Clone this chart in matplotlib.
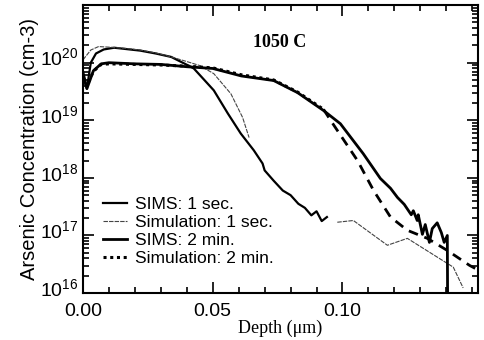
import matplotlib
matplotlib.use("Agg")
import matplotlib.pyplot as plt
import matplotlib.transforms as mtransforms
import numpy as np
from matplotlib.ticker import LogLocator, MultipleLocator, FixedLocator

# Depth in um, concentration as log10(cm-3).
sims_1s_x = [0.000, 0.0015, 0.003, 0.005, 0.008, 0.012, 0.016, 0.022, 0.028,
             0.034, 0.0415, 0.0427, 0.0504, 0.0558, 0.0608, 0.0658, 0.0692,
             0.0700, 0.0735, 0.0770, 0.0800, 0.0830, 0.0855, 0.0880, 0.0900,
             0.0920, 0.0940]
sims_1s_y = [19.77, 19.55, 20.00, 20.16, 20.23, 20.26, 20.24, 20.21, 20.16,
             20.10, 19.93, 19.90, 19.52, 19.12, 18.77, 18.48, 18.25,
             18.13, 17.95, 17.78, 17.70, 17.55, 17.48, 17.35, 17.42,
             17.25, 17.32]

sim_1s_x = [0.000, 0.003, 0.006, 0.010, 0.016, 0.022, 0.028, 0.034, 0.040,
            0.045, 0.0504, 0.057, 0.0615, 0.064, np.nan,
            0.098, 0.1042, 0.1173, 0.125, 0.1427, 0.1465]
sim_1s_y = [20.05, 20.22, 20.28, 20.27, 20.25, 20.22, 20.17, 20.10, 20.02,
            19.95, 19.81, 19.46, 19.05, 18.70, np.nan,
            17.23, 17.26, 16.83, 16.95, 16.45, 16.09]

sims_2m_x = [0.000, 0.0015, 0.004, 0.007, 0.010, 0.020, 0.030, 0.040, 0.050,
             0.061, 0.0735, 0.0827, 0.0927, 0.0992, 0.108, 0.1146, 0.1185,
             0.1212, 0.1238, 0.1265, 0.1273, 0.1288, 0.1292, 0.1308, 0.1319,
             0.1335, 0.1346, 0.1365, 0.1381, 0.1392, 0.1404, 0.1405]
sims_2m_y = [19.83, 19.55, 19.86, 19.98, 20.00, 19.98, 19.97, 19.93, 19.90,
             19.77, 19.69, 19.48, 19.17, 18.94, 18.42, 17.99, 17.82,
             17.66, 17.54, 17.36, 17.43, 17.26, 17.36, 17.02, 17.19,
             16.88, 17.12, 17.22, 17.05, 16.88, 17.00, 16.00]

sim_2m_x = [0.000, 0.0015, 0.004, 0.007, 0.010, 0.020, 0.030, 0.040, 0.050,
            0.061, 0.0735, 0.0827, 0.0927]
sim_2m_y = [19.75, 19.60, 19.85, 19.97, 19.98, 19.97, 19.96, 19.94, 19.91,
            19.79, 19.70, 19.49, 19.19]
sim_2m_tail_x = [0.0927, 0.0954, 0.1058, 0.1120, 0.1185, 0.125, 0.1327,
                 0.1404, 0.149, 0.1523]
sim_2m_tail_y = [19.19, 19.00, 18.30, 17.78, 17.32, 17.09, 16.95,
                 16.74, 16.48, 16.40]

y_ticks = [16, 17, 18, 19, 20]
x_ticks = [0.00, 0.05, 0.10]


def conc(values):
    return 10.0 ** np.asarray(values, dtype=float)


plt.rcParams["font.family"] = ["Liberation Sans", "DejaVu Sans"]
plt.rcParams["mathtext.fontset"] = "custom"
plt.rcParams["mathtext.rm"] = "Liberation Sans"

fig = plt.figure(figsize=(4.84, 3.4), dpi=100)
ax = fig.add_axes([0.1715, 0.138, 0.8165, 0.847])

ax.plot(sims_1s_x, conc(sims_1s_y), color="black", linewidth=1.6,
        label="SIMS: 1 sec.")
ax.plot(sim_1s_x, conc(sim_1s_y), color="#444444", linewidth=0.8,
        linestyle=(0, (4, 1)), label="Simulation: 1 sec.")
ax.plot(sims_2m_x, conc(sims_2m_y), color="black", linewidth=2.0,
        label="SIMS: 2 min.")
ax.plot(sim_2m_x, conc(sim_2m_y), color="black", linewidth=2.2,
        linestyle=(0, (1, 1.2)), label="Simulation: 2 min.")
ax.plot(sim_2m_tail_x, conc(sim_2m_tail_y), color="black", linewidth=2.0,
        linestyle=(0, (3.5, 2.5)))

ax.set_yscale("log")
ax.set_xlim(0, 0.1523)
ax.set_ylim(1e16, 1e21)

ax.yaxis.set_major_locator(FixedLocator(conc(y_ticks)))
ax.yaxis.set_minor_locator(LogLocator(base=10, subs=np.arange(2, 10)))
ax.set_yticklabels([f"$\\mathrm{{10}}^{{{v}}}$" for v in y_ticks])
ax.xaxis.set_major_locator(FixedLocator(x_ticks))
ax.xaxis.set_minor_locator(MultipleLocator(0.01))
ax.set_xticklabels([f"{v:.2f}" for v in x_ticks])

ax.tick_params(which="both", direction="in", top=True, right=True,
               labelsize=14, width=1.2)
ax.tick_params(which="major", length=8)
ax.tick_params(axis="y", which="major", pad=3)
ax.tick_params(axis="x", which="major", pad=7)
ax.tick_params(which="minor", length=4)
for spine in ax.spines.values():
    spine.set_linewidth(1.5)

# Lift the y labels a little so the "10" sits on the tick, as in the original.
lift = mtransforms.ScaledTranslation(0, 4 / 72, fig.dpi_scale_trans)
for label in ax.get_yticklabels():
    label.set_transform(label.get_transform() + lift)

ax.set_ylabel("Arsenic Concentration (cm-3)", fontsize=14.5, labelpad=1)
ax.set_xlabel("Depth (\u03bcm)", fontsize=13,
              family=["Liberation Serif", "DejaVu Serif"], labelpad=0)
ax.text(0.43, 0.871, "1050 C", transform=ax.transAxes, fontsize=13,
        fontweight="bold", va="center",
        family=["Liberation Serif", "DejaVu Serif"])

ax.legend(loc="lower left", bbox_to_anchor=(0.05, 0.095), frameon=False,
          fontsize=12.5, handlelength=1.4, handletextpad=0.45,
          labelspacing=0.15, borderaxespad=0, borderpad=0)

fig.savefig("out.png", dpi=100)
